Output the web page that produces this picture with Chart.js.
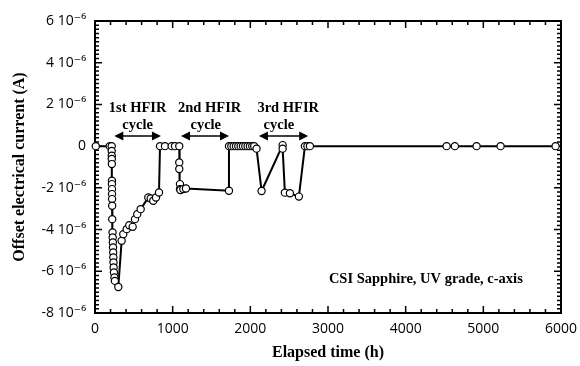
<!DOCTYPE html>
<html>
<head>
<meta charset="utf-8">
<script src="https://cdn.jsdelivr.net/npm/chart.js@4.4.0/dist/chart.umd.min.js"></script>
<style>
  html, body { margin: 0; padding: 0; background: #fff; }
</style>
</head>
<body>
<canvas id="chart" width="580" height="366"></canvas>
<script>
// elapsed time (h) and offset current (units of 10^-6 A)
var timeH = [
    10, 190, 215,
    215, 216, 216, 217, 218, 218, 219, 219, 220, 221, 222, 226, 228, 230, 232, 234, 236, 238, 240, 244, 250, 256, 300,
    343, 364, 408, 441, 485, 515, 544, 588, 686, 717, 750, 785, 824, 837, 901,
    987, 1030, 1085, 1085, 1085, 1094, 1094, 1100, 1137, 1171, 1725,
    1725, 1755, 1785, 1815, 1845, 1875, 1905, 1935, 1965, 1995, 2025, 2050, 2080,
    2145, 2416, 2416, 2445, 2510, 2625, 2703, 2735, 2767,
    4527, 4633, 4913, 5222, 5930
];
var currentMicroA = [
    0, 0, 0,
    -0.23, -0.46, -0.62, -0.86, -1.66, -1.82, -2.06, -2.30, -2.54, -2.86, -3.50, -4.14, -4.38, -4.62, -4.86, -5.10, -5.34, -5.58, -5.82, -6.06, -6.30, -6.46, -6.75,
    -4.54, -4.22, -3.98, -3.79, -3.87, -3.50, -3.26, -3.02, -2.46, -2.51, -2.62, -2.46, -2.22, 0, 0,
    0, 0, 0, -0.78, -1.10, -1.82, -2.06, -2.10, -2.06, -2.03, -2.14,
    0, 0, 0, 0, 0, 0, 0, 0, 0, 0, 0, 0, -0.12,
    -2.15, 0.05, -0.12, -2.23, -2.26, -2.42, 0, 0, 0,
    0, 0, 0, 0, 0
];
var cycleNames = ['1st HFIR', '2nd HFIR', '3rd HFIR'];
var cycleSpans = [[249, 849], [1107, 1725], [2111, 2745]];
var sampleLabel = 'CSI Sapphire, UV grade, c-axis';

var points = [];
for (var i = 0; i < timeH.length; i++) {
    points.push({ x: timeH[i], y: currentMicroA[i] });
}

var serif = 'Liberation Serif, Times New Roman, serif';
var sans = 'Open Sans, DejaVu Sans, sans-serif';

// frame with inward major/minor ticks on all four sides
var frameTicks = {
    id: 'frameTicks',
    beforeDatasetsDraw: function (chart) {
        var ctx = chart.ctx, a = chart.chartArea;
        var xs = chart.scales.x, ys = chart.scales.y;
        ctx.save();
        ctx.strokeStyle = '#000';
        ctx.lineWidth = 2;
        ctx.strokeRect(a.left, a.top, a.right - a.left, a.bottom - a.top);
        ctx.lineWidth = 1.5;
        ctx.beginPath();
        for (var t = 0; t <= 6000; t += 200) {
            var px = xs.getPixelForValue(t);
            var len = t % 1000 === 0 ? 7 : 4;
            ctx.moveTo(px, a.bottom); ctx.lineTo(px, a.bottom - len);
            ctx.moveTo(px, a.top); ctx.lineTo(px, a.top + len);
        }
        for (var k = -40; k <= 30; k++) {
            var py = ys.getPixelForValue(k * 0.2);
            var len2 = k % 10 === 0 ? 7 : 4;
            ctx.moveTo(a.left, py); ctx.lineTo(a.left + len2, py);
            ctx.moveTo(a.right, py); ctx.lineTo(a.right - len2, py);
        }
        ctx.stroke();
        ctx.restore();
    }
};

function arrowHead(ctx, x, y, dir) {
    ctx.beginPath();
    ctx.moveTo(x, y);
    ctx.lineTo(x - dir * 9, y - 4.5);
    ctx.lineTo(x - dir * 9, y + 4.5);
    ctx.closePath();
    ctx.fill();
}

// cycle labels with double arrows, and sample label
var notes = {
    id: 'notes',
    afterDatasetsDraw: function (chart) {
        var ctx = chart.ctx;
        var xs = chart.scales.x, ys = chart.scales.y;
        ctx.save();
        ctx.fillStyle = '#000';
        ctx.strokeStyle = '#000';
        ctx.font = 'bold 14.5px ' + serif;
        ctx.textAlign = 'center';
        ctx.textBaseline = 'middle';
        var nameShift = [0, 60, 60];
        var cycleWordShift = [0, 10, -60];
        for (var i = 0; i < cycleNames.length; i++) {
            var x0 = xs.getPixelForValue(cycleSpans[i][0]);
            var x1 = xs.getPixelForValue(cycleSpans[i][1]);
            var midH = (cycleSpans[i][0] + cycleSpans[i][1]) / 2;
            ctx.fillText(cycleNames[i], xs.getPixelForValue(midH + nameShift[i]), ys.getPixelForValue(1.82));
            ctx.fillText('cycle', xs.getPixelForValue(midH + cycleWordShift[i]), ys.getPixelForValue(1.0));
            var ay = ys.getPixelForValue(0.49);
            ctx.lineWidth = 1.5;
            ctx.beginPath();
            ctx.moveTo(x0 + 4, ay);
            ctx.lineTo(x1 - 4, ay);
            ctx.stroke();
            arrowHead(ctx, x0, ay, -1);
            arrowHead(ctx, x1, ay, 1);
        }
        ctx.textAlign = 'right';
        ctx.fillText(sampleLabel, xs.getPixelForValue(5508), ys.getPixelForValue(-6.38));
        ctx.restore();
    }
};

new Chart(document.getElementById('chart'), {
    type: 'scatter',
    data: {
        datasets: [{
            data: points,
            showLine: true,
            borderColor: '#000',
            borderWidth: 2,
            pointRadius: 3.6,
            pointBackgroundColor: '#fff',
            pointBorderColor: '#000',
            pointBorderWidth: 1.2,
            clip: false
        }]
    },
    plugins: [frameTicks, notes],
    options: {
        responsive: false,
        devicePixelRatio: 1,
        animation: false,
        layout: { padding: { top: 21, right: 19, left: 0, bottom: 0 } },
        plugins: {
            legend: { display: false },
            tooltip: { enabled: false }
        },
        scales: {
            x: {
                type: 'linear',
                min: 0,
                max: 6000,
                ticks: {
                    stepSize: 1000,
                    color: '#000',
                    padding: 8,
                    font: { family: sans, size: 14 },
                    callback: function (v) { return String(v); }
                },
                grid: { display: false, drawTicks: false },
                border: { display: false },
                title: {
                    display: true,
                    text: 'Elapsed time (h)',
                    color: '#000',
                    font: { family: serif, size: 16, weight: 'bold' },
                    padding: { top: 0, bottom: 4 }
                },
                afterFit: function (s) {
                    s.height = 53;
                    s.paddingLeft = 0;
                    s.paddingRight = 0;
                }
            },
            y: {
                min: -8,
                max: 6,
                ticks: {
                    stepSize: 2,
                    color: '#000',
                    padding: 9,
                    font: { family: sans, size: 14 },
                    callback: function (v) {
                        return v === 0 ? '0' : v + ' 10\u207B\u2076';
                    }
                },
                grid: { display: false, drawTicks: false },
                border: { display: false },
                title: {
                    display: true,
                    text: 'Offset electrical current (A)',
                    color: '#000',
                    font: { family: serif, size: 16, weight: 'bold' },
                    padding: { top: 10, bottom: 0 }
                },
                afterFit: function (s) {
                    s.width = 95;
                    s.paddingTop = 0;
                    s.paddingBottom = 0;
                }
            }
        }
    }
});
</script>
</body>
</html>
